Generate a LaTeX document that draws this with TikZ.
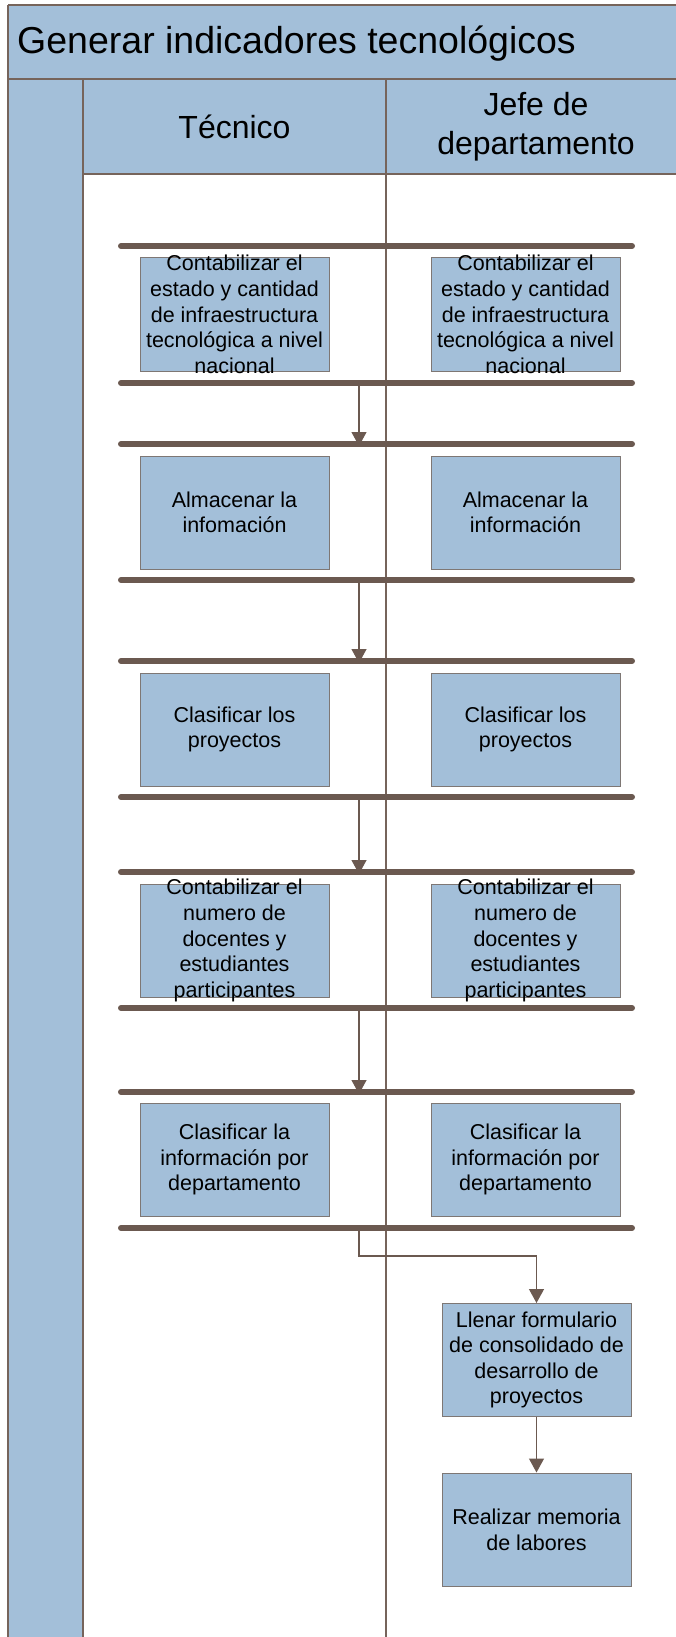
\documentclass[tikz,border=0pt]{standalone}
\usepackage{fontspec}
\setmainfont{Liberation Sans}
\usetikzlibrary{arrows.meta}

\definecolor{laneblue}{HTML}{A3BFD9}
\definecolor{framebrown}{HTML}{76645B}
\definecolor{barbrown}{HTML}{6B5950}
\definecolor{boxedge}{HTML}{7E7774}

\tikzset{
  frameline/.style={draw=framebrown, line width=1.2pt},
  syncbar/.style={draw=barbrown, line width=6pt, line cap=round},
  flow/.style={draw=barbrown, line width=1.2pt, -{Triangle[width=15pt,length=14pt]}},
  boxtext/.style={align=center, font=\fontsize{21.5}{25.6}\selectfont, inner sep=0pt},
  activity/.style={draw=boxedge, line width=1pt, fill=laneblue,
    minimum width=189pt, minimum height=113pt, inner sep=0pt,
    label={[boxtext]center:#1}},
  headtext/.style={align=center, font=\fontsize{32}{38.5}\selectfont, inner sep=0pt},
}

\begin{document}
\begin{tikzpicture}[x=1pt, y=-1pt]
\useasboundingbox (0,0) rectangle (676,1637);

% lane backgrounds
\fill[laneblue] (8,5) rectangle (676,79);
\fill[laneblue] (83,79) rectangle (676,174);
\fill[laneblue] (8,79) rectangle (83,1637);

% frame and lane separators
\draw[frameline] (8,5) -- (676,5);
\draw[frameline] (8,5) -- (8,1637);
\draw[frameline] (8,79) -- (676,79);
\draw[frameline] (83,79) -- (83,1637);
\draw[frameline] (83,174) -- (676,174);
\draw[frameline] (386,79) -- (386,1637);

% titles
\node[anchor=base west, inner sep=0pt, font=\fontsize{37.5}{44}\selectfont] (title) at (17,54) {Generar indicadores tecnológicos};
\node[headtext] (tec) at (234.5,126.5) {Técnico};
\node[headtext] (jefe) at (536,126.5) {Jefe de\\departamento};

% synchronisation bars
\foreach \n/\y in {1/246, 2/383, 3/444, 4/580, 5/661, 6/797, 7/872, 8/1008, 9/1092, 10/1228} {
  \coordinate (bar\n w) at (121,\y);
  \coordinate (bar\n e) at (632,\y);
  \coordinate (bar\n) at (359,\y);
  \draw[syncbar] (bar\n w) -- (bar\n e);
}

% activities, one row per step
\node[activity={Contabilizar el\\estado y cantidad\\de infraestructura\\tecnológica a nivel\\nacional}] (a1) at (234.5,314.5) {};
\node[activity={Contabilizar el\\estado y cantidad\\de infraestructura\\tecnológica a nivel\\nacional}] (b1) at (525.5,314.5) {};
\node[activity={Almacenar la\\infomación}] (a2) at (234.5,512.5) {};
\node[activity={Almacenar la\\información}] (b2) at (525.5,512.5) {};
\node[activity={Clasificar los\\proyectos}] (a3) at (234.5,729.5) {};
\node[activity={Clasificar los\\proyectos}] (b3) at (525.5,729.5) {};
\node[activity={Contabilizar el\\numero de\\docentes y\\estudiantes\\participantes}] (a4) at (234.5,940.5) {};
\node[activity={Contabilizar el\\numero de\\docentes y\\estudiantes\\participantes}] (b4) at (525.5,940.5) {};
\node[activity={Clasificar la\\información por\\departamento}] (a5) at (234.5,1159.5) {};
\node[activity={Clasificar la\\información por\\departamento}] (b5) at (525.5,1159.5) {};
\node[activity={Llenar formulario\\de consolidado de\\desarrollo de\\proyectos}] (llenar) at (536.5,1360) {};
\node[activity={Realizar memoria\\de labores}] (memoria) at (536.5,1529.5) {};

% flow between the bars
\draw[flow] (bar2) -- ([yshift=-2pt]bar3);
\draw[flow] (bar4) -- ([yshift=-2pt]bar5);
\draw[flow] (bar6) -- ([yshift=-2pt]bar7);
\draw[flow] (bar8) -- ([yshift=-2pt]bar9);
\draw[flow] (bar10) -- ++(0,28) -| (llenar.north);
\draw[flow] (llenar.south) -- (memoria.north);
\end{tikzpicture}
\end{document}
